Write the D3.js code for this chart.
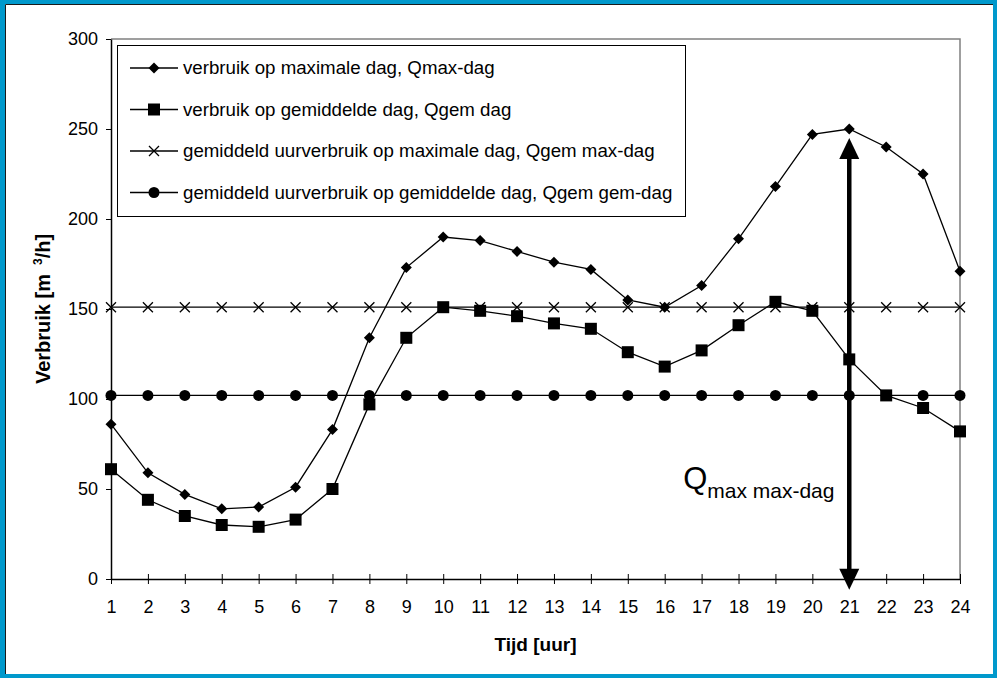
<!DOCTYPE html>
<html>
<head>
<meta charset="utf-8">
<script src="https://cdn.jsdelivr.net/npm/d3@7"></script>
<style>
  html, body { margin: 0; padding: 0; background: #fff; }
  svg { display: block; font-family: Arial, "Liberation Sans", sans-serif; }
</style>
</head>
<body>
<svg id="chart" width="997" height="678"></svg>
<script>
// Uren van de dag
const hours = [1,2,3,4,5,6,7,8,9,10,11,12,13,14,15,16,17,18,19,20,21,22,23,24];

// Verbruik op maximale dag (m3/h)
const maxDay = [86,59,47,39,40,51,83,134,173,190,188,182,176,172,155,151,163,189,218,247,250,240,225,171];
// Verbruik op gemiddelde dag (m3/h)
const avgDay = [61,44,35,30,29,33,50,97,134,151,149,146,142,139,126,118,127,141,154,149,122,102,95,82];
// Gemiddeld uurverbruik op maximale dag
const avgHourMaxDay = [151,151,151,151,151,151,151,151,151,151,151,151,151,151,151,151,151,151,151,151,151,151,151,151];
// Gemiddeld uurverbruik op gemiddelde dag
const avgHourAvgDay = [102,102,102,102,102,102,102,102,102,102,102,102,102,102,102,102,102,102,102,102,102,102,102,102];

const yTicks = [0,50,100,150,200,250,300];

const seriesNames = [
  "verbruik op maximale dag, Qmax-dag",
  "verbruik op gemiddelde dag, Qgem dag",
  "gemiddeld uurverbruik op maximale dag, Qgem max-dag",
  "gemiddeld uurverbruik op gemiddelde dag, Qgem gem-dag"
];
const seriesMarkers = ["diamond", "square", "cross", "circle"];

// Piekpijl bij het maximale uur
const peakHour = 21;
const peakArrowTop = 245;
const peakArrowBottom = -6;

const FONT = "Arial, 'Liberation Sans', sans-serif";
const svg = d3.select("#chart");
const W = 997, H = 678;

// Kader
svg.append("rect").attr("x", 0).attr("y", 0).attr("width", W).attr("height", H).attr("fill", "#0099cc");
svg.append("rect").attr("x", 5).attr("y", 4).attr("width", W - 9).attr("height", H - 8).attr("fill", "#fff");
svg.append("path").attr("d", `M5.5,${H-4} V4.5 H${W-4}`).attr("fill", "none").attr("stroke", "#1a1a1a").attr("stroke-width", 1);

const x = d3.scaleLinear().domain([1, 24]).range([111, 960]);
const y = d3.scaleLinear().domain([0, 300]).range([579, 39]);

// Plotgebied: grijze rand boven en rechts
svg.append("path")
  .attr("d", `M${x(1)},${y(300)} H${x(24)} V${y(0)}`)
  .attr("fill", "none").attr("stroke", "#808080").attr("stroke-width", 1.5);

// Y-as
const yAxis = svg.append("g").attr("transform", `translate(${x(1)},0)`)
  .call(d3.axisLeft(y).tickValues(yTicks).tickSize(5).tickSizeOuter(0).tickPadding(8));
yAxis.select(".domain").attr("stroke", "#000").attr("stroke-width", 1.5);
yAxis.selectAll(".tick line").attr("stroke", "#000").attr("x2", -5).attr("x1", 0);
yAxis.selectAll(".tick text").attr("font-size", 18).attr("fill", "#000").attr("font-family", FONT);

// X-as
const xAxis = svg.append("g").attr("transform", `translate(0,${y(0)})`)
  .call(d3.axisBottom(x).tickValues(hours).tickFormat(d3.format("d")).tickSize(5).tickSizeOuter(0).tickPadding(16));
xAxis.select(".domain").attr("stroke", "#000").attr("stroke-width", 1.5);
xAxis.selectAll(".tick line").attr("stroke", "#000").attr("y1", -5).attr("y2", 5);
xAxis.selectAll(".tick text").attr("font-size", 18).attr("fill", "#000").attr("font-family", FONT);

// Astitels
svg.append("text")
  .attr("x", x(12.5)).attr("y", 651)
  .attr("text-anchor", "middle").attr("font-size", 19).attr("font-weight", "bold")
  .text("Tijd [uur]");

const yTitle = svg.append("text")
  .attr("transform", `translate(50,${y(150)}) rotate(-90)`)
  .attr("text-anchor", "middle").attr("font-size", 20).attr("font-weight", "bold");
yTitle.append("tspan").text("Verbruik [m");
yTitle.append("tspan").attr("font-size", 12).attr("dx", 9).attr("dy", -8).text("3");
yTitle.append("tspan").attr("dy", 8).text("/h]");

// Markers
function drawMarker(g, type, cx, cy) {
  if (type === "diamond") {
    g.append("path").attr("d", `M${cx},${cy-5.5} L${cx+5.5},${cy} L${cx},${cy+5.5} L${cx-5.5},${cy} Z`).attr("fill", "#000");
  } else if (type === "square") {
    g.append("rect").attr("x", cx - 6).attr("y", cy - 6).attr("width", 12).attr("height", 12).attr("fill", "#000");
  } else if (type === "circle") {
    g.append("circle").attr("cx", cx).attr("cy", cy).attr("r", 5.5).attr("fill", "#000");
  } else if (type === "cross") {
    g.append("path").attr("d", `M${cx-5},${cy-5} L${cx+5},${cy+5} M${cx-5},${cy+5} L${cx+5},${cy-5}`)
      .attr("stroke", "#000").attr("stroke-width", 1.3).attr("fill", "none");
  }
}

const allSeries = [maxDay, avgDay, avgHourMaxDay, avgHourAvgDay];
const line = d3.line().x((d, i) => x(hours[i])).y(d => y(d));

// Teken in volgorde zodat de dagcurves bovenop liggen
const drawOrder = [3, 2, 1, 0];
drawOrder.forEach(si => {
  const vals = allSeries[si];
  const g = svg.append("g");
  g.append("path").datum(vals).attr("d", line).attr("fill", "none").attr("stroke", "#000").attr("stroke-width", 1.3);
  vals.forEach((v, i) => drawMarker(g, seriesMarkers[si], x(hours[i]), y(v)));
});

// Piekpijl
const ax = x(peakHour);
const yTop = y(peakArrowTop), yBot = y(peakArrowBottom);
const headH = 21, headW = 10;
svg.append("line").attr("x1", ax).attr("x2", ax).attr("y1", yTop + headH - 2).attr("y2", yBot - headH + 2)
  .attr("stroke", "#000").attr("stroke-width", 4.5);
svg.append("path").attr("d", `M${ax},${yTop} L${ax+headW},${yTop+headH} L${ax-headW},${yTop+headH} Z`).attr("fill", "#000");
svg.append("path").attr("d", `M${ax},${yBot} L${ax+headW},${yBot-headH} L${ax-headW},${yBot-headH} Z`).attr("fill", "#000");

// Label bij de pijl
const qLabel = svg.append("text").attr("x", x(16.5)).attr("y", y(50)).attr("font-size", 31);
qLabel.append("tspan").text("Q");
qLabel.append("tspan").attr("font-size", 21).attr("dy", 9).text("max max-dag");

// Legenda
const lg = svg.append("g");
const legendTop = 45, legendLeft = 117;
lg.append("rect").attr("x", legendLeft + 0.5).attr("y", legendTop + 0.5).attr("width", 568).attr("height", 171)
  .attr("fill", "#fff").attr("stroke", "#000").attr("stroke-width", 1);
seriesNames.forEach((name, i) => {
  const cy = 68 + i * 41.5;
  lg.append("line").attr("x1", 130).attr("x2", 178).attr("y1", cy).attr("y2", cy).attr("stroke", "#000").attr("stroke-width", 1.3);
  drawMarker(lg, seriesMarkers[i], 154, cy);
  lg.append("text").attr("x", 183).attr("y", cy + 6).attr("font-size", 18.7).text(name);
});
</script>
</body>
</html>
